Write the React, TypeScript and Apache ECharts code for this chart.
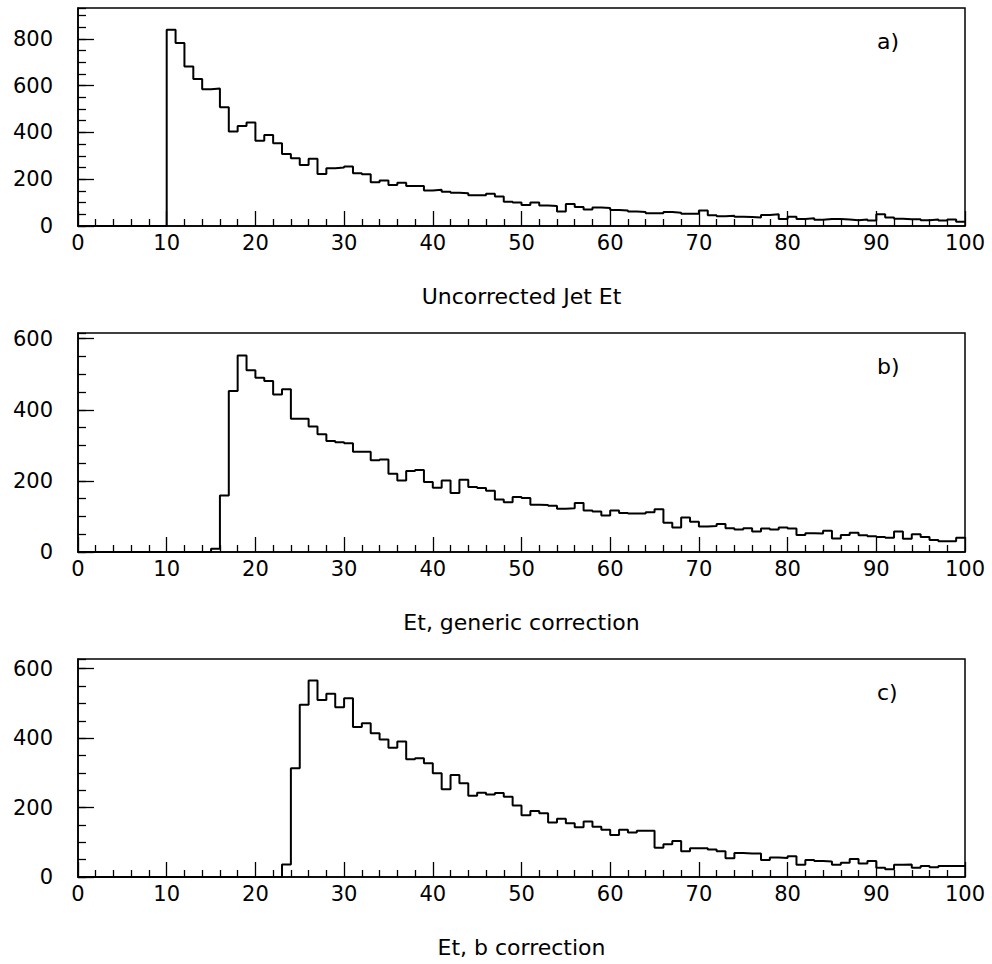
import React, { useEffect, useRef } from "react";
import * as echarts from "echarts";

// Histogram bin layout: 100 bins of width 1 starting at 0
const BIN_START = 0;
const BIN_WIDTH = 1;

const PANEL_TITLES = ["Uncorrected Jet Et", "Et, generic correction", "Et, b correction"];
const PANEL_TAGS = ["a)", "b)", "c)"];
const Y_MAX = [932, 616, 628];
const Y_MAJOR = 200;
const Y_MINOR = 50;
const X_MIN = 0;
const X_MAX = 100;
const X_MAJOR = 10;

// a) Uncorrected Jet Et (bins 0..99)
const UNCORRECTED = [
  0, 0, 0, 0, 0, 0, 0, 0, 0, 0,
  839, 782, 682, 628, 585, 588, 508, 404, 428, 442,
  364, 389, 354, 308, 290, 261, 288, 222, 247, 250,
  254, 225, 221, 187, 194, 175, 185, 171, 171, 152,
  155, 146, 142, 140, 131, 131, 138, 126, 104, 100,
  90, 100, 88, 86, 62, 94, 81, 71, 79, 77,
  68, 66, 62, 60, 55, 55, 60, 57, 52, 52,
  66, 46, 42, 44, 40, 38, 36, 47, 50, 30,
  40, 30, 33, 27, 30, 30, 28, 25, 28, 23,
  50, 36, 31, 29, 29, 25, 28, 24, 28, 18,
];

// b) Et, generic correction
const GENERIC = [
  0, 0, 0, 0, 0, 0, 0, 0, 0, 0,
  0, 0, 0, 0, 0, 9, 159, 453, 553, 511,
  490, 481, 443, 458, 375, 375, 353, 331, 312, 309,
  306, 282, 282, 258, 260, 220, 201, 228, 231, 197,
  181, 201, 166, 203, 183, 180, 172, 148, 140, 155,
  152, 133, 132, 130, 122, 123, 138, 117, 114, 103,
  117, 110, 108, 108, 112, 120, 82, 69, 97, 85,
  72, 73, 79, 67, 63, 67, 58, 66, 63, 69,
  66, 48, 53, 52, 60, 38, 48, 54, 47, 44,
  42, 40, 58, 37, 50, 42, 34, 30, 30, 40,
];

// c) Et, b correction
const BCORR = [
  0, 0, 0, 0, 0, 0, 0, 0, 0, 0,
  0, 0, 0, 0, 0, 0, 0, 0, 0, 0,
  0, 0, 0, 36, 313, 496, 566, 510, 528, 489,
  515, 432, 443, 414, 396, 372, 390, 339, 342, 328,
  299, 253, 294, 270, 234, 243, 238, 242, 231, 206,
  178, 190, 184, 157, 168, 155, 143, 160, 145, 136,
  121, 136, 128, 133, 133, 84, 94, 104, 74, 83,
  83, 79, 74, 54, 69, 68, 68, 49, 56, 55,
  60, 35, 49, 46, 45, 35, 41, 52, 39, 46,
  27, 22, 35, 36, 27, 32, 28, 32, 32, 32,
];

const PANELS = [UNCORRECTED, GENERIC, BCORR];

const FONT = "'DejaVu Sans', 'Open Sans', sans-serif";
const INK = "#000";
const GRID_TOPS = [8, 333, 659];
const GRID_HEIGHTS = [218, 219, 218];
const GRID_LEFT = 78;
const GRID_RIGHT = 27;

function histPoints(vals: number[]): number[][] {
  const pts: number[][] = vals.map((v, i) => [BIN_START + i * BIN_WIDTH, v]);
  pts.push([BIN_START + vals.length * BIN_WIDTH, vals[vals.length - 1]]);
  return pts;
}

export default function App() {
  const ref = useRef<HTMLDivElement>(null);

  useEffect(() => {
    document.body.style.margin = "0";
    const chart = echarts.init(ref.current!, null, { renderer: "svg" });

    const grids = PANELS.map((_, k) => ({
      left: GRID_LEFT,
      right: GRID_RIGHT,
      top: GRID_TOPS[k],
      height: GRID_HEIGHTS[k],
      show: true,
      borderColor: INK,
      borderWidth: 1.5,
      backgroundColor: "transparent",
    }));

    const xAxes = PANELS.map((_, k) => ({
      gridIndex: k,
      type: "value",
      min: X_MIN,
      max: X_MAX,
      interval: X_MAJOR,
      axisLine: { show: true, onZero: false, lineStyle: { color: INK, width: 1.6 } },
      axisTick: { show: true, inside: true, length: 15, lineStyle: { color: INK, width: 1.3 } },
      minorTick: { show: true, splitNumber: 5, length: 7, lineStyle: { color: INK, width: 1.3 } },
      splitLine: { show: false },
      minorSplitLine: { show: false },
      axisLabel: { color: INK, fontSize: 21, fontFamily: FONT, margin: 6 },
      name: PANEL_TITLES[k],
      nameLocation: "middle",
      nameGap: 59,
      nameTextStyle: { color: INK, fontSize: 22, fontFamily: FONT },
    }));

    const yAxes: any[] = [];
    PANELS.forEach((_, k) => {
      yAxes.push({
        gridIndex: k,
        type: "value",
        position: "left",
        min: 0,
        max: Y_MAX[k],
        interval: Y_MAJOR,
        axisLine: { show: true, onZero: false, lineStyle: { color: INK, width: 1.6 } },
        axisTick: { show: true, inside: true, length: 16, lineStyle: { color: INK, width: 1.3 } },
        splitLine: { show: false },
        axisLabel: { color: INK, fontSize: 21, fontFamily: FONT, margin: 25, showMaxLabel: false },
      });
      yAxes.push({
        gridIndex: k,
        type: "value",
        position: "left",
        offset: 0,
        min: 0,
        max: Y_MAX[k],
        interval: Y_MINOR,
        axisLine: { show: false },
        axisTick: { show: true, inside: true, length: 8, lineStyle: { color: INK, width: 1.3 } },
        splitLine: { show: false },
        axisLabel: { show: false },
      });
    });

    const series = PANELS.map((vals, k) => ({
      type: "line",
      xAxisIndex: k,
      yAxisIndex: 2 * k,
      data: histPoints(vals),
      step: "end",
      symbol: "none",
      silent: true,
      lineStyle: { color: INK, width: 2 },
    }));

    const graphic = PANEL_TAGS.map((tag, k) => ({
      type: "text",
      left: 877,
      top: GRID_TOPS[k] + 22,
      style: { text: tag, fontSize: 22, fontFamily: FONT, fill: INK },
    }));

    chart.setOption({
      animation: false,
      backgroundColor: "#fff",
      grid: grids,
      xAxis: xAxes,
      yAxis: yAxes,
      series,
      graphic,
    });

    return () => chart.dispose();
  }, []);

  return <div ref={ref} style={{ width: 992, height: 964 }} />;
}
